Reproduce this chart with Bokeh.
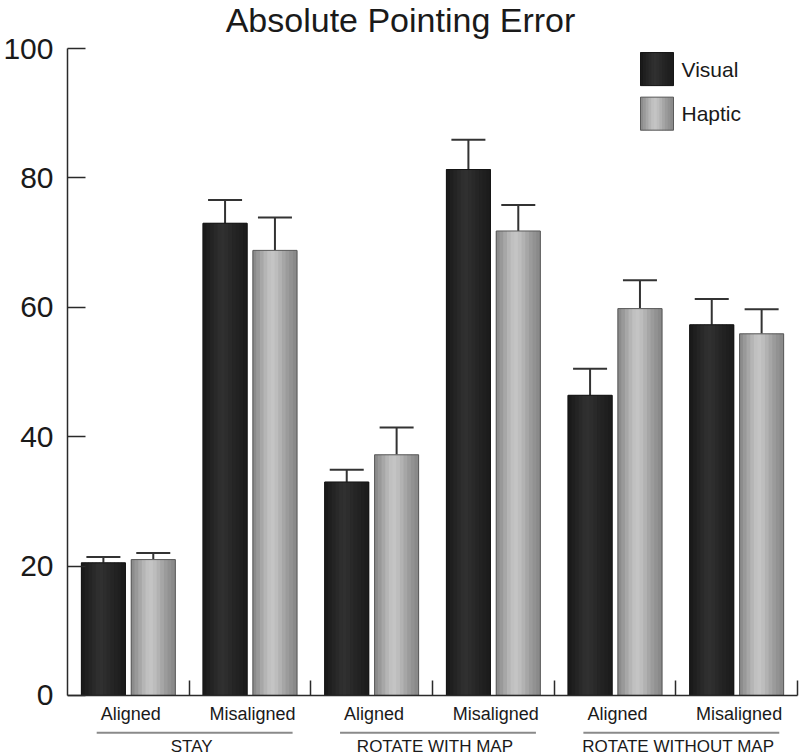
from bokeh.plotting import figure
from bokeh.models import Range1d, FixedTicker, Label, Arrow, Whisker, TeeHead, ColumnDataSource
from bokeh.embed import file_html
from bokeh.resources import INLINE

# ---------------- data ----------------
title = "Absolute Pointing Error"
conditions = ["Aligned", "Misaligned", "Aligned", "Misaligned", "Aligned", "Misaligned"]
groups = ["STAY", "ROTATE WITH MAP", "ROTATE WITHOUT MAP"]
series = ["Visual", "Haptic"]
visual = [20.5, 73.0, 33.0, 81.3, 46.4, 57.3]
visual_err = [0.9, 3.6, 1.9, 4.6, 4.1, 4.0]
haptic = [21.0, 68.8, 37.2, 71.8, 59.8, 55.9]
haptic_err = [1.0, 5.1, 4.2, 4.0, 4.4, 3.8]
y_ticks = [0, 20, 40, 60, 80, 100]

# ---------------- style ----------------
FONT = "Liberation Sans"
TXT = "#1a1a1a"
dark_stripes = ["#1a1a1a", "#1f1f1f", "#242424", "#292929", "#2e2e2e", "#303030",
                "#2d2d2d", "#292929", "#252525", "#222222", "#1f1f1f", "#1c1c1c"]
gray_stripes = ["#8c8c8c", "#999999", "#a7a7a7", "#b5b5b5", "#c0c0c0", "#c4c4c4",
                "#bdbdbd", "#b2b2b2", "#a6a6a6", "#9b9b9b", "#929292", "#8a8a8a"]
palettes = [dark_stripes, gray_stripes]
base_cols = ["#262626", "#a8a8a8"]
outlines = ["#151515", "#5a5a5a"]

W, H = 800, 756
LEFT = 67            # frame left edge (px)
Y0_PX, Y100_PX = 694, 48
FRAME_BOTTOM = 755   # expected frame bottom (px)
px_per_unit = (Y0_PX - Y100_PX) / 100.0
cat_px = 121.67

def ydata(py):
    return (Y0_PX - py) / px_per_unit

x_end = (W - LEFT) / cat_px
y_start = ydata(FRAME_BOTTOM)
y_end = ydata(0)

p = figure(width=W, height=H, x_range=Range1d(0, x_end), y_range=Range1d(y_start, y_end),
           output_backend="svg", toolbar_location=None,
           min_border_left=LEFT, min_border_right=0, min_border_top=0, min_border_bottom=0)
p.xgrid.visible = False
p.ygrid.visible = False
p.outline_line_color = None

# y axis
p.yaxis.ticker = FixedTicker(ticks=y_ticks)
p.yaxis.bounds = (0, 100)
p.yaxis.major_tick_in = 18
p.yaxis.major_tick_out = 0
p.yaxis.minor_tick_line_color = None
p.yaxis.major_label_text_font = FONT
p.yaxis.major_label_text_font_size = "30px"
p.yaxis.major_label_text_color = TXT
p.yaxis.major_label_standoff = 14
p.yaxis.axis_line_color = "#2a2a2a"
p.yaxis.axis_line_width = 1.5
p.yaxis.major_tick_line_color = "#2a2a2a"
p.yaxis.major_tick_line_width = 1.5

# x axis: separator ticks between conditions, drawn at y = 0
sep_ticks = list(range(1, len(conditions) + 1))
p.xaxis.ticker = FixedTicker(ticks=sep_ticks)
p.xaxis.fixed_location = 0
p.xaxis.bounds = (0, len(conditions))
p.xaxis.major_tick_in = 15
p.xaxis.major_tick_out = 0
p.xaxis.minor_tick_line_color = None
p.xaxis.major_label_overrides = {t: "" for t in sep_ticks}
p.xaxis.major_label_text_font_size = "1px"
p.xaxis.major_label_standoff = 0
p.xaxis.axis_line_color = "#2a2a2a"
p.xaxis.axis_line_width = 1.5
p.xaxis.major_tick_line_color = "#2a2a2a"
p.xaxis.major_tick_line_width = 1.5

# bars with shaded stripes
bw = 0.362
offsets = [-0.205, 0.205]
values = [visual, haptic]
errors = [visual_err, haptic_err]
for s in range(len(series)):
    pal = palettes[s]
    n = len(pal)
    centers = [j + 0.5 + offsets[s] for j in range(len(conditions))]
    p.vbar(x=centers, top=values[s], bottom=0, width=bw, fill_color=base_cols[s], line_color=None)
    for k in range(n):
        xs = [c - bw / 2 + (k + 0.5) * bw / n for c in centers]
        p.vbar(x=xs, top=values[s], bottom=0, width=bw / n + 0.006,
               fill_color=pal[k], line_color=None)
    p.vbar(x=centers, top=values[s], bottom=0, width=bw,
           fill_color=None, line_color=outlines[s], line_width=1)
    src = ColumnDataSource(dict(x=centers, top=values[s],
                                hi=[v + e for v, e in zip(values[s], errors[s])]))
    wh = Whisker(source=src, base="x", upper="hi", lower="top",
                 upper_head=TeeHead(size=34, line_color="#333333", line_width=2),
                 lower_head=None, line_color="#333333", line_width=2)
    p.add_layout(wh)

# legend (drawn with the same shading)
leg_x = (656.5 - LEFT) / cat_px
leg_w = 33 / cat_px
leg_h = 33 / px_per_unit
leg_y = [ydata(68.5), ydata(113)]
for s in range(len(series)):
    pal = palettes[s]
    n = len(pal)
    xs = [leg_x - leg_w / 2 + (k + 0.5) * leg_w / n for k in range(n)]
    p.rect(x=[leg_x], y=[leg_y[s]], width=leg_w, height=leg_h, fill_color=base_cols[s], line_color=None)
    p.rect(x=xs, y=[leg_y[s]] * n, width=leg_w / n + 0.006, height=leg_h,
           fill_color=pal, line_color=None)
    p.rect(x=[leg_x], y=[leg_y[s]], width=leg_w, height=leg_h,
           fill_color=None, line_color=outlines[s], line_width=1)
    p.add_layout(Label(x=(681 - LEFT) / cat_px, y=leg_y[s], text=series[s], text_font=FONT,
                       text_font_size="21px", text_color=TXT, text_baseline="middle",
                       text_align="left"))

# title
p.add_layout(Label(x=(400 - LEFT) / cat_px, y=ydata(19.5), text=title, text_font=FONT,
                   text_font_size="34px", text_color=TXT, text_align="center",
                   text_baseline="middle"))

# condition labels
for j, c in enumerate(conditions):
    p.add_layout(Label(x=j + 0.52, y=ydata(713.0), text=c, text_font=FONT,
                       text_font_size="18px", text_color=TXT, text_align="center",
                       text_baseline="middle"))

# group lines + labels
y_line = ydata(731.3)
for g, name in enumerate(groups):
    p.add_layout(Arrow(x_start=2 * g + 0.24, x_end=2 * g + 1.85, y_start=y_line, y_end=y_line,
                       end=None, line_color="#8a8a8a", line_width=2))
    p.add_layout(Label(x=2 * g + 1.02, y=ydata(745.0), text=name, text_font=FONT,
                       text_font_size="17px", text_color=TXT, text_align="center",
                       text_baseline="middle"))

open("out.html", "w").write(file_html(p, INLINE))
